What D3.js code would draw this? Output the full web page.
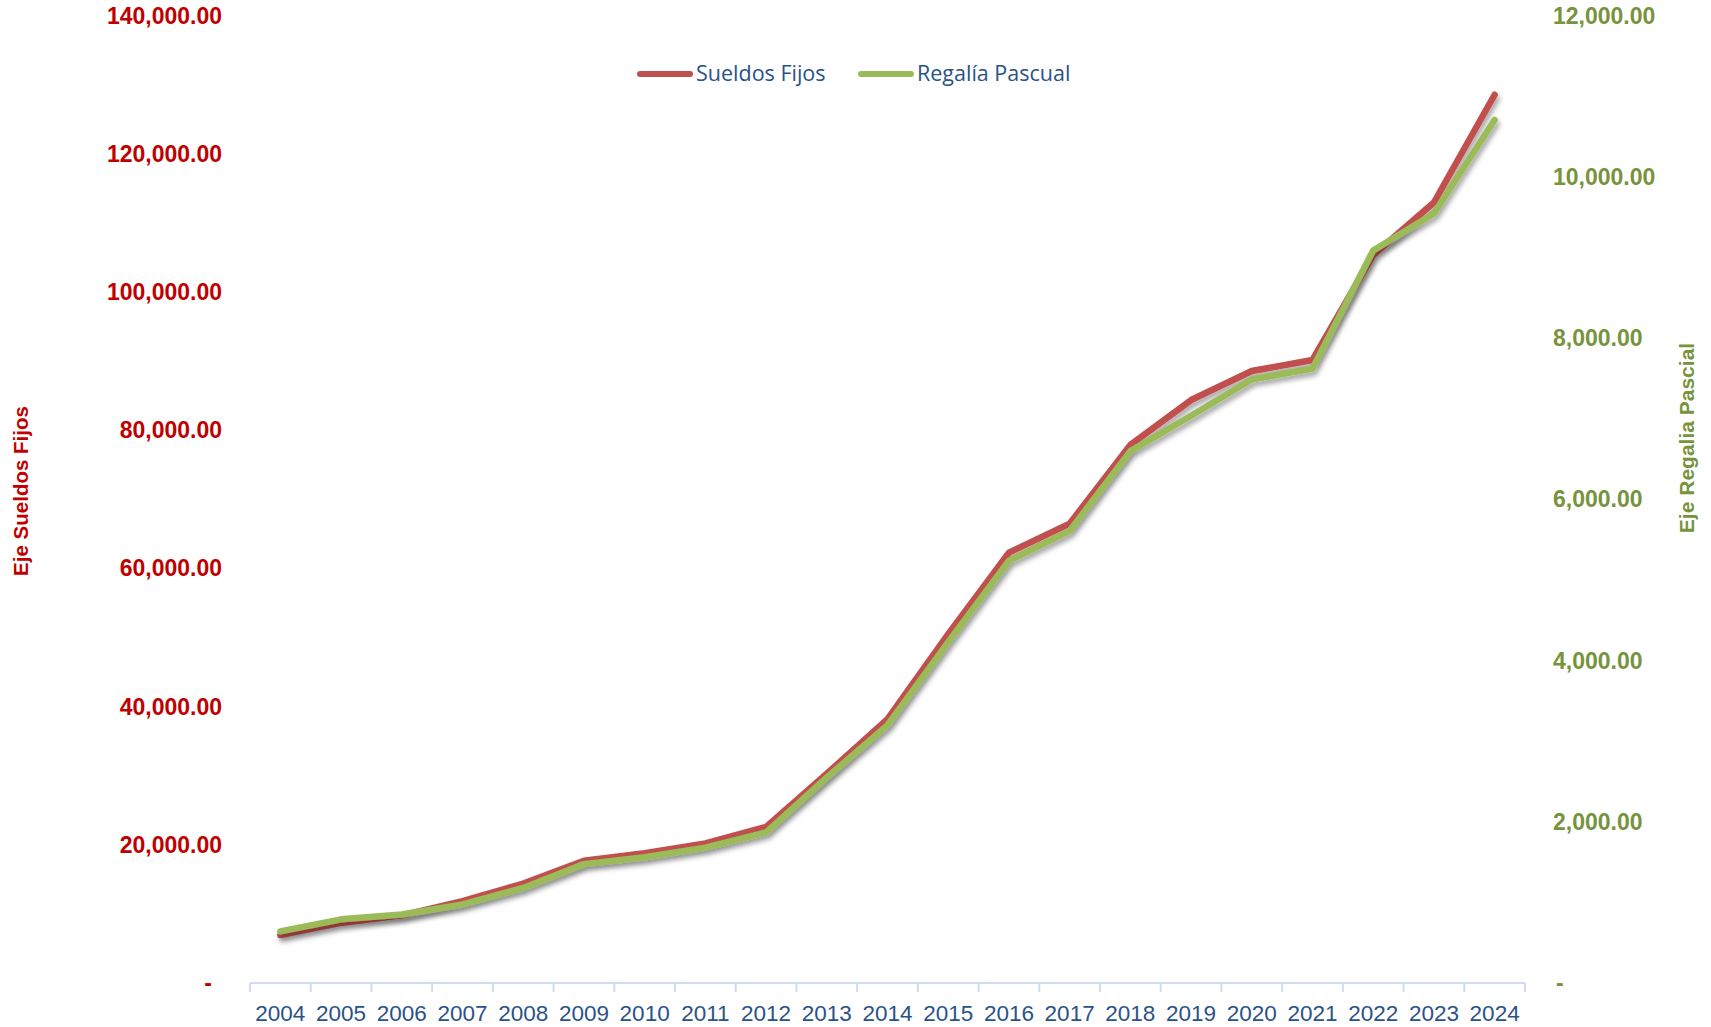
<!DOCTYPE html>
<html lang="es">
<head>
<meta charset="utf-8">
<title>Sueldos Fijos y Regalía Pascual</title>
<script src="https://cdn.jsdelivr.net/npm/d3@7"></script>
<style>
  body { margin: 0; background: #fff; }
  svg { display: block; }
</style>
</head>
<body>
<script>
// datos
var years = ["2004","2005","2006","2007","2008","2009","2010","2011","2012","2013","2014",
             "2015","2016","2017","2018","2019","2020","2021","2022","2023","2024"];
var sueldosFijos = [6950, 8700, 9800, 11850, 14400, 17700, 18800, 20200, 22600, 30300, 38200,
                    50500, 62300, 66500, 77900, 84400, 88600, 90200, 105400, 113000, 128600];
var regaliaPascual = [640, 790, 850, 975, 1180, 1475, 1560, 1680, 1870, 2550, 3200,
                      4230, 5240, 5610, 6600, 7040, 7490, 7625, 9090, 9550, 10710];
var leftTicks = [0, 20000, 40000, 60000, 80000, 100000, 120000, 140000];
var rightTicks = [0, 2000, 4000, 6000, 8000, 10000, 12000];

var width = 1711, height = 1027;
var plotLeft = 250, plotRight = 1525, plotTop = 16, plotBottom = 983;

var svg = d3.select("body").append("svg")
  .attr("width", width)
  .attr("height", height);

var defs = svg.append("defs");
var f = defs.append("filter").attr("id", "shadow")
  .attr("x", "-5%").attr("y", "-5%").attr("width", "110%").attr("height", "120%");
f.append("feDropShadow")
  .attr("dx", 2).attr("dy", 4).attr("stdDeviation", 2.5)
  .attr("flood-color", "#000").attr("flood-opacity", 0.35);

var x = d3.scaleBand().domain(years).range([plotLeft, plotRight]);
var yL = d3.scaleLinear().domain([0, 140000]).range([plotBottom, plotTop]);
var yR = d3.scaleLinear().domain([0, 12000]).range([plotBottom, plotTop]);

var fmt = d3.format(",.2f");

// eje izquierdo
var axL = svg.append("g")
  .attr("transform", "translate(222,0)")
  .call(d3.axisLeft(yL).tickValues(leftTicks).tickSize(0).tickPadding(0)
    .tickFormat(function(d) { return d === 0 ? "-" : fmt(d); }));
axL.select(".domain").remove();
axL.selectAll("text")
  .attr("font-family", "Liberation Sans, Arial, sans-serif")
  .attr("font-size", "23px")
  .attr("font-weight", "bold")
  .attr("fill", "#c00000")
  .attr("dx", function(d) { return d === 0 ? -10 : 0; });

// eje derecho
var axR = svg.append("g")
  .attr("transform", "translate(1553,0)")
  .call(d3.axisRight(yR).tickValues(rightTicks).tickSize(0).tickPadding(0)
    .tickFormat(function(d) { return d === 0 ? "-" : fmt(d); }));
axR.select(".domain").remove();
axR.selectAll("text")
  .attr("font-family", "Liberation Sans, Arial, sans-serif")
  .attr("font-size", "23px")
  .attr("font-weight", "bold")
  .attr("fill", "#77933c")
  .attr("dx", function(d) { return d === 0 ? 3 : 0; });

// eje x
var axX = svg.append("g").attr("transform", "translate(0," + plotBottom + ")");
axX.append("line")
  .attr("x1", plotLeft).attr("x2", plotRight).attr("y1", 0).attr("y2", 0)
  .attr("stroke", "#cddcf0").attr("stroke-width", 2);
var bounds = years.map(function(d) { return x(d); }).concat([plotRight]);
axX.selectAll("line.tk").data(bounds).enter().append("line")
  .attr("class", "tk")
  .attr("x1", function(d) { return d; }).attr("x2", function(d) { return d; })
  .attr("y1", 0).attr("y2", 9)
  .attr("stroke", "#cddcf0").attr("stroke-width", 2);
axX.selectAll("text").data(years).enter().append("text")
  .attr("x", function(d) { return x(d) + x.bandwidth() / 2; })
  .attr("y", 38)
  .attr("text-anchor", "middle")
  .attr("font-family", "Liberation Sans, Arial, sans-serif")
  .attr("font-size", "22.5px")
  .attr("fill", "#2a5288")
  .text(function(d) { return d; });

// titulos de ejes
svg.append("text")
  .attr("transform", "translate(28,491) rotate(-90)")
  .attr("text-anchor", "middle")
  .attr("font-family", "Liberation Sans, Arial, sans-serif")
  .attr("font-size", "20.5px")
  .attr("font-weight", "bold")
  .attr("fill", "#c00000")
  .text("Eje Sueldos Fijos");

svg.append("text")
  .attr("transform", "translate(1694,438) rotate(-90)")
  .attr("text-anchor", "middle")
  .attr("font-family", "Liberation Sans, Arial, sans-serif")
  .attr("font-size", "21px")
  .attr("font-weight", "bold")
  .attr("fill", "#77933c")
  .text("Eje Regalia Pascial");

// lineas
var cx = function(d, i) { return x(years[i]) + x.bandwidth() / 2; };
var lineL = d3.line().x(cx).y(function(d) { return yL(d); });
var lineR = d3.line().x(cx).y(function(d) { return yR(d); });

svg.append("path")
  .datum(sueldosFijos)
  .attr("d", lineL)
  .attr("fill", "none")
  .attr("stroke", "#c0504d")
  .attr("stroke-width", 6.5)
  .attr("stroke-linecap", "round")
  .attr("stroke-linejoin", "round")
  .attr("filter", "url(#shadow)");

svg.append("path")
  .datum(regaliaPascual)
  .attr("d", lineR)
  .attr("fill", "none")
  .attr("stroke", "#9bbb59")
  .attr("stroke-width", 6.5)
  .attr("stroke-linecap", "round")
  .attr("stroke-linejoin", "round")
  .attr("filter", "url(#shadow)");

// leyenda
var legend = [
  { name: "Sueldos Fijos", color: "#c0504d", x: 640 },
  { name: "Regalía Pascual", color: "#9bbb59", x: 861 }
];
var lg = svg.append("g").selectAll("g").data(legend).enter().append("g")
  .attr("transform", function(d) { return "translate(" + d.x + ",74)"; });
lg.append("line")
  .attr("x1", 0).attr("x2", 50).attr("y1", 0).attr("y2", 0)
  .attr("stroke", function(d) { return d.color; })
  .attr("stroke-width", 6)
  .attr("stroke-linecap", "round");
lg.append("text")
  .attr("x", 56).attr("y", 7)
  .attr("font-family", "Open Sans, sans-serif")
  .attr("font-size", "21.5px")
  .attr("fill", "#2a5288")
  .text(function(d) { return d.name; });
</script>
</body>
</html>
